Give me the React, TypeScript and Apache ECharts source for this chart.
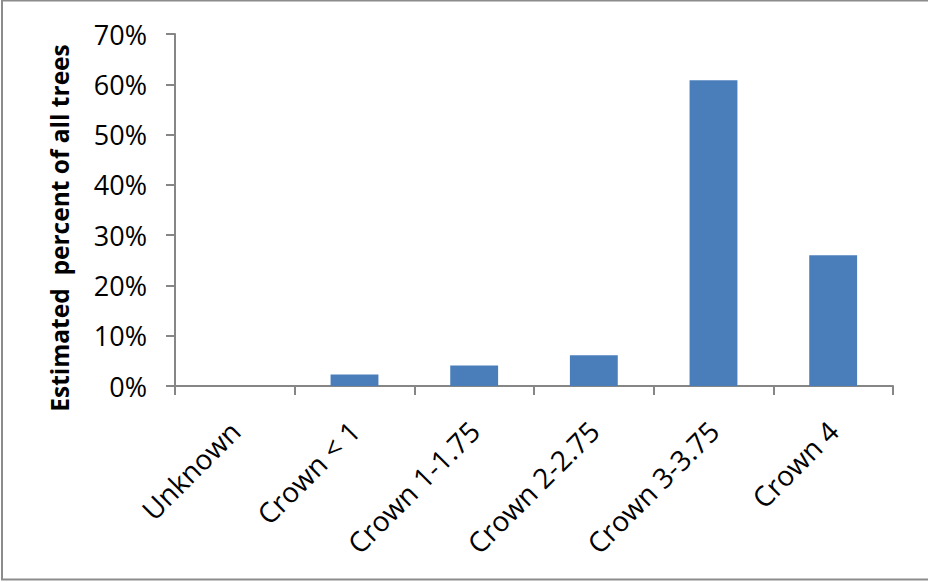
import React, { useEffect, useRef } from "react";
import * as echarts from "echarts";

const categories = ["Unknown", "Crown < 1", "Crown 1-1.75", "Crown 2-2.75", "Crown 3-3.75", "Crown 4"];
const percentValues = [0, 2.3, 4.1, 6.1, 60.8, 26.0];
const yTicks = { min: 0, max: 70, interval: 10 };
const yTitle = "Estimated  percent of all trees";

export default function App() {
  const ref = useRef<HTMLDivElement>(null);
  useEffect(() => {
    if (!ref.current) return;
    const chart = echarts.init(ref.current, undefined, { renderer: "svg" });
    const axisColor = "#868686";
    chart.setOption({
      animation: false,
      backgroundColor: "#ffffff",
      graphic: [
        {
          type: "rect",
          shape: { x: 2, y: 0.5, width: 940, height: 579 },
          style: { fill: "none", stroke: "#8c8c8c", lineWidth: 2 },
          silent: true,
        },
      ],
      grid: { left: 175, right: 35, top: 34, bottom: 196, containLabel: false },
      xAxis: {
        type: "category",
        data: categories,
        axisLine: { lineStyle: { color: axisColor, width: 2 } },
        axisTick: { show: true, length: 9, lineStyle: { color: axisColor, width: 2 } },
        axisLabel: {
          rotate: 45,
          interval: 0,
          margin: 40,
          color: "#000",
          fontSize: 28,
          fontFamily: "Open Sans",
        },
      },
      yAxis: {
        type: "value",
        min: yTicks.min,
        max: yTicks.max,
        interval: yTicks.interval,
        name: yTitle,
        nameLocation: "middle",
        nameGap: 103,
        nameTextStyle: {
          color: "#000",
          fontSize: 24.5,
          fontWeight: "bold",
          fontFamily: "Open Sans",
          padding: [0, 36, 0, 0],
        },
        axisLine: { show: true, lineStyle: { color: axisColor, width: 2 } },
        axisTick: { show: true, length: 9, lineStyle: { color: axisColor, width: 2 } },
        splitLine: { show: false },
        axisLabel: {
          formatter: "{value}%",
          margin: 28,
          color: "#000",
          fontSize: 27,
          fontFamily: "Open Sans",
        },
      },
      series: [
        {
          type: "bar",
          data: percentValues,
          barCategoryGap: "60%",
          itemStyle: { color: "#4A7EBB", borderWidth: 0 },
        },
      ],
    });
    return () => chart.dispose();
  }, []);
  return <div ref={ref} style={{ position: "fixed", left: 0, top: 0, width: 928, height: 582 }} />;
}
